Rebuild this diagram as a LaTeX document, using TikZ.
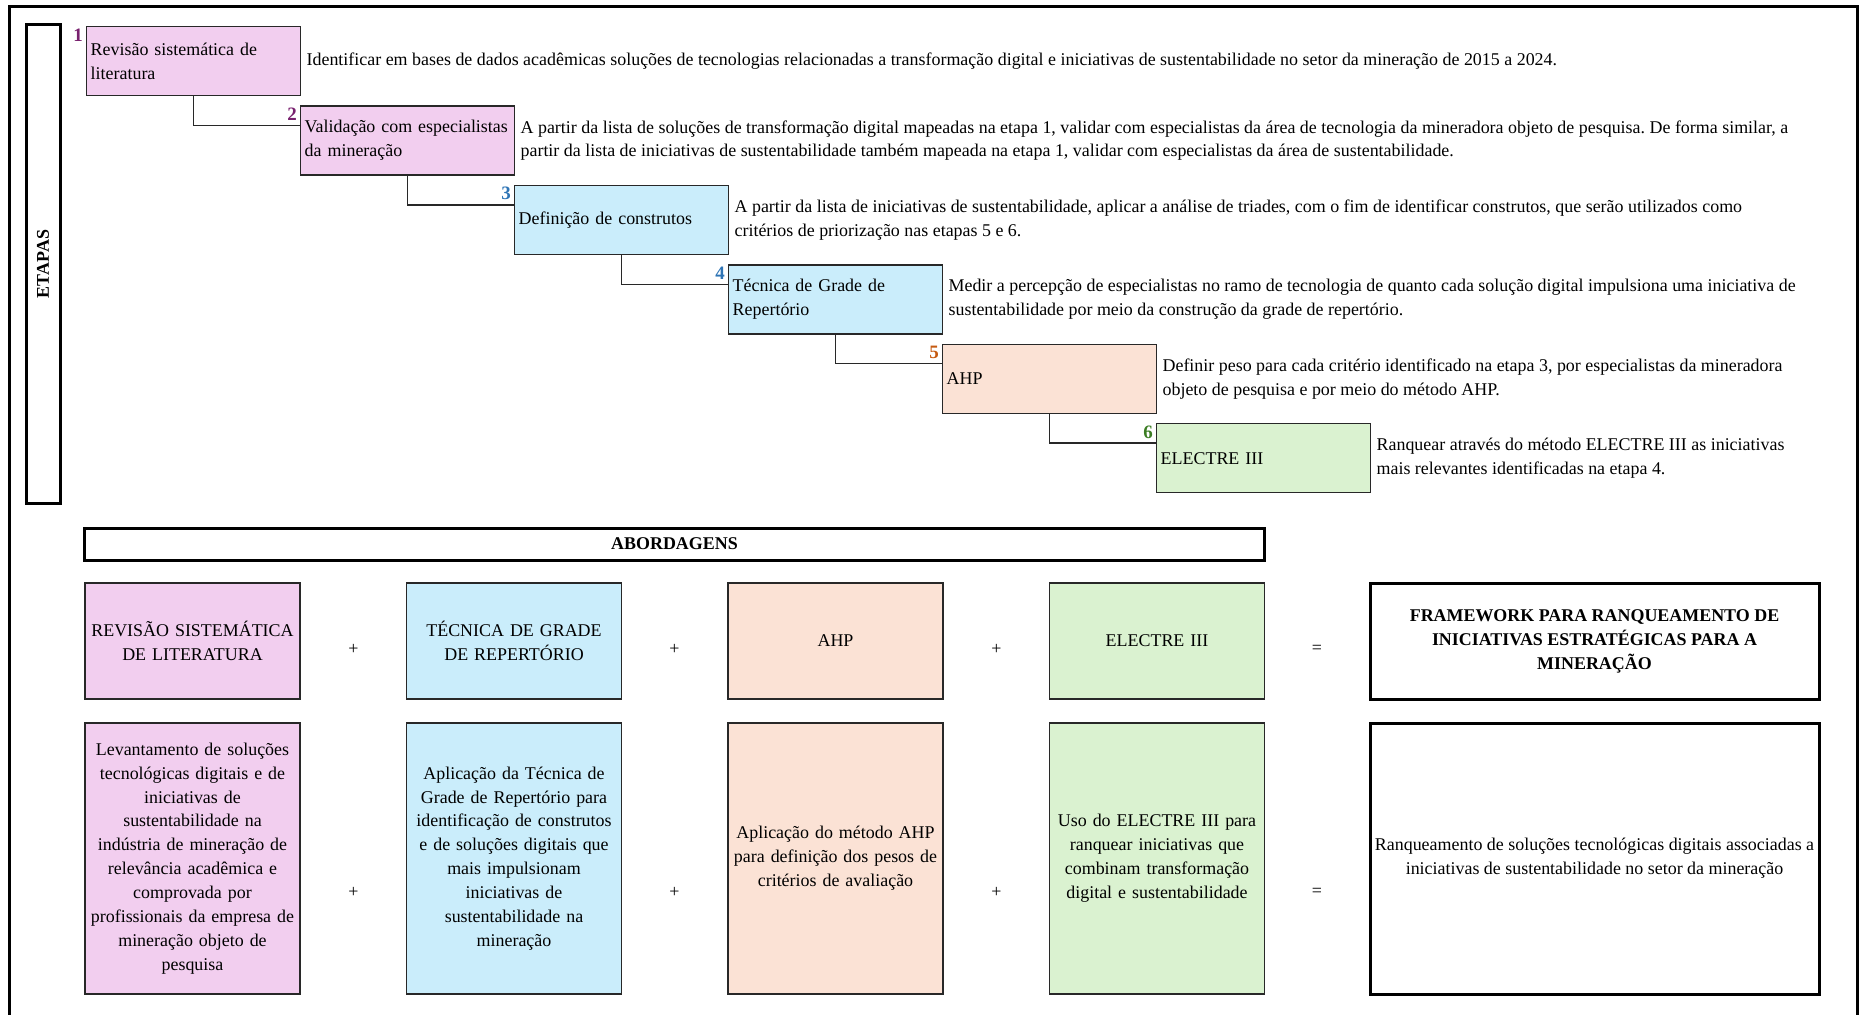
\documentclass[tikz,border=0pt]{standalone}
\usepackage{fontspec}
\setmainfont{Liberation Serif}
\usetikzlibrary{calc}
\frenchspacing

\definecolor{pinkfill}{RGB}{242,206,239}
\definecolor{bluefill}{RGB}{202,237,251}
\definecolor{peachfill}{RGB}{251,226,213}
\definecolor{greenfill}{RGB}{218,242,208}
\definecolor{numpurple}{RGB}{120,32,110}
\definecolor{numblue}{RGB}{46,116,181}
\definecolor{numorange}{RGB}{197,90,17}
\definecolor{numgreen}{RGB}{59,125,35}
\definecolor{edge}{RGB}{40,40,40}

\tikzset{
  base/.style={font=\fontsize{18}{24}\selectfont},
  stepbox/.style={base, draw=edge, line width=1.4bp, anchor=north west, align=left,
    text width=206bp, inner xsep=4bp, inner ysep=0pt, minimum height=69bp},
  steplink/.style={draw=edge, line width=1.4bp},
  stepnum/.style={font=\fontsize{19}{24}\selectfont\bfseries, anchor=base east, inner sep=0pt},
  desc/.style={base, anchor=west, align=left, inner sep=0pt},
  frame/.style={draw=black, line width=3bp},
  heading/.style={frame, font=\fontsize{18}{24}\selectfont\bfseries, inner sep=0pt},
  approach/.style={base, draw=edge, line width=1.4bp, align=center,
    text width=209bp, inner xsep=3bp, inner ysep=0pt},
  result/.style={base, frame, align=center, minimum width=449bp, inner xsep=0pt, inner ysep=0pt},
  op/.style={base, inner sep=0pt},
}

\begin{document}
\begin{tikzpicture}[x=1bp, y=-1bp]
\useasboundingbox (0,0) rectangle (1860,1014);

% outer frame (open at the bottom)
\draw[frame] (9,1030) -- (9,6) -- (1857,6) -- (1857,1030);

% side label
\node[heading, rotate=90, minimum width=478bp, minimum height=34bp] (etapas) at (43,264) {ETAPAS};

% stepped sequence of stages
\node[stepbox, fill=pinkfill]  (s1) at (86,26)     {Revisão sistemática de\\literatura};
\node[stepbox, fill=pinkfill]  (s2) at (300,105.4) {Validação com especialistas\\da mineração};
\node[stepbox, fill=bluefill]  (s3) at (514,184.8) {Definição de construtos};
\node[stepbox, fill=bluefill]  (s4) at (728,264.2) {Técnica de Grade de\\Repertório};
\node[stepbox, fill=peachfill] (s5) at (942,343.6) {AHP};
\node[stepbox, fill=greenfill] (s6) at (1156,423)  {ELECTRE III};

\node[stepnum, text=numpurple] (n1) at ($(s1.north west)+(-3,15)$) {1};
\node[stepnum, text=numpurple] (n2) at ($(s2.north west)+(-3,15)$) {2};
\node[stepnum, text=numblue]   (n3) at ($(s3.north west)+(-3,15)$) {3};
\node[stepnum, text=numblue]   (n4) at ($(s4.north west)+(-3,15)$) {4};
\node[stepnum, text=numorange] (n5) at ($(s5.north west)+(-3,15)$) {5};
\node[stepnum, text=numgreen]  (n6) at ($(s6.north west)+(-3,15)$) {6};

\draw[steplink] (s1.south) |- ($(s2.north west)+(0,20)$);
\draw[steplink] (s2.south) |- ($(s3.north west)+(0,20)$);
\draw[steplink] (s3.south) |- ($(s4.north west)+(0,20)$);
\draw[steplink] (s4.south) |- ($(s5.north west)+(0,20)$);
\draw[steplink] (s5.south) |- ($(s6.north west)+(0,20)$);

\node[desc] (d1) at ($(s1.east)+(5,0)$) {Identificar em bases de dados acadêmicas soluções de tecnologias relacionadas a transformação digital e iniciativas de sustentabilidade no setor da mineração de 2015 a 2024.};
\node[desc] (d2) at ($(s2.east)+(5,0)$) {A partir da lista de soluções de transformação digital mapeadas na etapa 1, validar com especialistas da área de tecnologia da mineradora objeto de pesquisa. De forma similar, a\\partir da lista de iniciativas de sustentabilidade também mapeada na etapa 1, validar com especialistas da área de sustentabilidade.};
\node[desc] (d3) at ($(s3.east)+(5,0)$) {A partir da lista de iniciativas de sustentabilidade, aplicar a análise de triades, com o fim de identificar construtos, que serão utilizados como\\critérios de priorização nas etapas 5 e 6.};
\node[desc] (d4) at ($(s4.east)+(5,0)$) {Medir a percepção de especialistas no ramo de tecnologia de quanto cada solução digital impulsiona uma iniciativa de\\sustentabilidade por meio da construção da grade de repertório.};
\node[desc] (d5) at ($(s5.east)+(5,0)$) {Definir peso para cada critério identificado na etapa 3, por especialistas da mineradora\\objeto de pesquisa e por meio do método AHP.};
\node[desc] (d6) at ($(s6.east)+(5,0)$) {Ranquear através do método ELECTRE III as iniciativas\\mais relevantes identificadas na etapa 4.};

% approaches
\node[heading, minimum width=1179bp, minimum height=32bp] (abord) at (674.5,544) {ABORDAGENS};

\node[approach, fill=pinkfill,  minimum height=116bp] (a1) at (192.5,641) {REVISÃO SISTEMÁTICA\\DE LITERATURA};
\node[approach, fill=bluefill,  minimum height=116bp] (b1) at (514,641)   {TÉCNICA DE GRADE\\DE REPERTÓRIO};
\node[approach, fill=peachfill, minimum height=116bp] (c1) at (835.5,641) {AHP};
\node[approach, fill=greenfill, minimum height=116bp] (e1) at (1157,641)  {ELECTRE III};
\node[result, minimum height=116bp, font=\fontsize{18}{24}\selectfont\bfseries] (f1) at (1594.5,641)
  {FRAMEWORK PARA RANQUEAMENTO DE\\INICIATIVAS ESTRATÉGICAS PARA A\\MINERAÇÃO};

\node[op] (p11) at (353.5,649) {+};
\node[op] (p12) at (674.5,649) {+};
\node[op] (p13) at (996.5,649) {+};
\node[op] (q1)  at (1317,649)  {=};

\node[approach, fill=pinkfill,  minimum height=271bp] (a2) at (192.5,858.5) {Levantamento de soluções\\tecnológicas digitais e de\\iniciativas de\\sustentabilidade na\\indústria de mineração de\\relevância acadêmica e\\comprovada por\\profissionais da empresa de\\mineração objeto de\\pesquisa};
\node[approach, fill=bluefill,  minimum height=271bp] (b2) at (514,858.5) {Aplicação da Técnica de\\Grade de Repertório para\\identificação de construtos\\e de soluções digitais que\\mais impulsionam\\iniciativas de\\sustentabilidade na\\mineração};
\node[approach, fill=peachfill, minimum height=271bp] (c2) at (835.5,858.5) {Aplicação do método AHP\\para definição dos pesos de\\critérios de avaliação};
\node[approach, fill=greenfill, minimum height=271bp] (e2) at (1157,858.5) {Uso do ELECTRE III para\\ranquear iniciativas que\\combinam transformação\\digital e sustentabilidade};
\node[result, minimum height=271bp] (f2) at (1594.5,858.5) {Ranqueamento de soluções tecnológicas digitais associadas a\\iniciativas de sustentabilidade no setor da mineração};

\node[op] (p21) at (353.5,892) {+};
\node[op] (p22) at (674.5,892) {+};
\node[op] (p23) at (996.5,892) {+};
\node[op] (q2)  at (1317,892)  {=};
\end{tikzpicture}
\end{document}
